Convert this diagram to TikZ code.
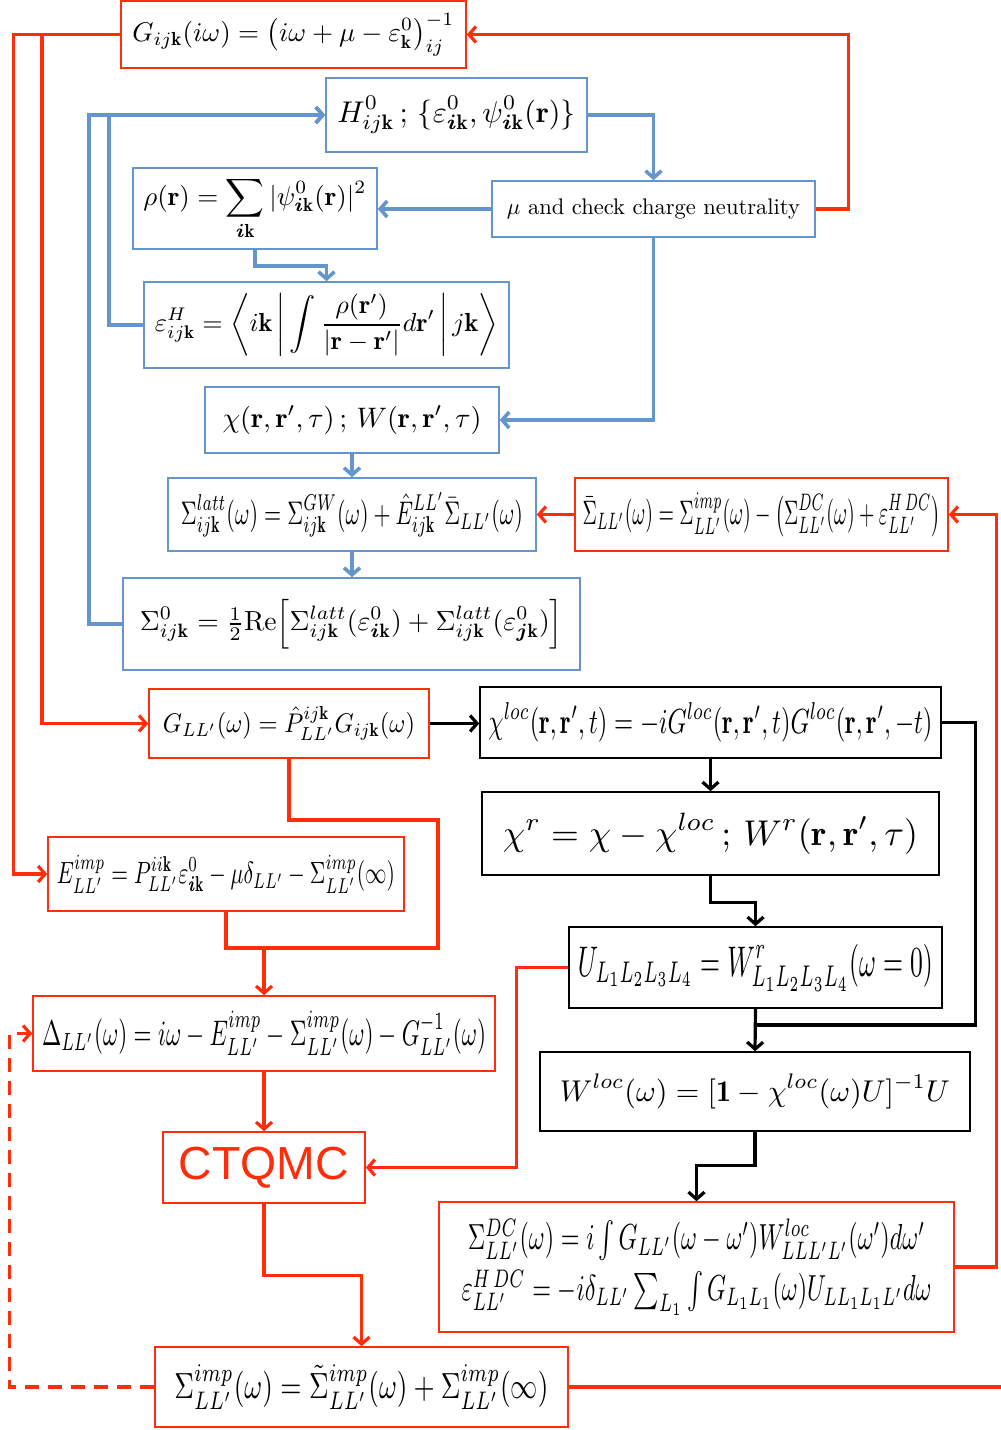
\documentclass[tikz,border=0pt]{standalone}
\usepackage{amsmath,amssymb}
\usepackage{graphicx}
\usepackage{fontspec}
\newfontfamily\arialf{Liberation Sans}
\usetikzlibrary{arrows.meta}
\definecolor{rd}{RGB}{255,45,10}
\definecolor{bl}{RGB}{100,150,205}
\newcommand{\fw}[2]{\resizebox{#1pt}{!}{$\displaystyle #2$}}
\newcommand{\fwh}[3]{\resizebox*{#1pt}{#2pt}{$\displaystyle #3$}}
\newcommand{\bk}{\mathbf{k}}
\newcommand{\bi}{\boldsymbol{i}}
\newcommand{\br}{\mathbf{r}}
\begin{document}
\begin{tikzpicture}[x=1pt,y=-1pt,
  box/.style={draw, line width=1.6pt, inner sep=0pt, rectangle},
  rbox/.style={box, draw=rd},
  bbox/.style={box, draw=bl},
  kbox/.style={box, draw=black},
  rl/.style={draw=rd, line width=3.2pt},
  bll/.style={draw=bl, line width=3.6pt},
  kl/.style={draw=black, line width=3.2pt},
  tip/.style={-{Straight Barb[length=7pt,width=16pt]}}]
\useasboundingbox (0,0) rectangle (1001,1430);

% nodes
\node[rbox, minimum width=345pt, minimum height=67pt] (g) at (293.5,34.5)
  {\fw{322}{G_{ij\bk}(i\omega) = \bigl(i\omega + \mu - \varepsilon^{0}_{\bk}\bigr)^{-1}_{ij}}};
\node[bbox, minimum width=261pt, minimum height=74pt] (h0) at (456.5,115)
  {\fw{238}{H^{0}_{ij\bk}\,;\,\{\varepsilon^{0}_{\bi\bk},\psi^{0}_{\bi\bk}(\br)\}}};
\node[bbox, minimum width=323pt, minimum height=56pt] (mu) at (653.5,209)
  {\resizebox{293pt}{!}{$\mu$ and check charge neutrality}};
\node[bbox, minimum width=244pt, minimum height=81pt] (rho) at (255,208.5)
  {\fw{223}{\rho(\br) = \sum_{\bi\bk} |\psi^{0}_{\bi\bk}(\br)|^{2}}};
\node[bbox, minimum width=365pt, minimum height=86pt] (eh) at (326.5,325)
  {\fw{343}{\varepsilon^{H}_{ij\bk} = \left\langle i\bk \,\middle|\, \int \frac{\rho(\br')}{|\br-\br'|}d\br' \,\middle|\, j\bk \right\rangle}};
\node[bbox, minimum width=294pt, minimum height=66pt] (chi) at (352,420)
  {\fw{259}{\chi(\br,\br',\tau)\,;\,W(\br,\br',\tau)}};
\node[bbox, minimum width=368pt, minimum height=73pt] (slatt) at (352,514.5)
  {\fwh{342}{45}{\Sigma^{latt}_{ij\bk}(\omega) = \Sigma^{GW}_{ij\bk}(\omega) + \hat{E}^{LL'}_{ij\bk}\bar{\Sigma}_{LL'}(\omega)}};
\node[rbox, minimum width=373pt, minimum height=73pt] (sbar) at (761.5,514.5)
  {\fwh{358}{44}{\bar{\Sigma}_{LL'}(\omega) = \Sigma^{imp}_{LL'}(\omega) - \bigl(\Sigma^{DC}_{LL'}(\omega) + \varepsilon^{H\,DC}_{LL'}\bigr)}};
\node[bbox, minimum width=457pt, minimum height=92pt] (s0) at (351.5,624)
  {\fw{423}{\Sigma^{0}_{ij\bk} = \tfrac{1}{2}\mathrm{Re}\Bigl[\Sigma^{latt}_{ij\bk}(\varepsilon^{0}_{\bi\bk}) + \Sigma^{latt}_{ij\bk}(\varepsilon^{0}_{\boldsymbol{j}\bk})\Bigr]}};
\node[rbox, minimum width=280pt, minimum height=69pt] (gll) at (289,723.5)
  {\fwh{252}{34}{G_{LL'}(\omega) = \hat{P}^{ij\bk}_{LL'}G_{ij\bk}(\omega)}};
\node[kbox, minimum width=461pt, minimum height=71pt] (chiloc) at (710.5,722.5)
  {\fwh{444}{40}{\chi^{loc}(\br,\br',t) = -iG^{loc}(\br,\br',t)G^{loc}(\br,\br',-t)}};
\node[kbox, minimum width=457pt, minimum height=83pt] (chir) at (710.5,833.5)
  {\fw{415}{\chi^{r} = \chi - \chi^{loc}\,;\,W^{r}(\br,\br',\tau)}};
\node[rbox, minimum width=356pt, minimum height=74pt] (eimp) at (226,874)
  {\fwh{338}{38}{E^{imp}_{LL'} = P^{ii\bk}_{LL'}\varepsilon^{0}_{\bi\bk} - \mu\delta_{LL'} - \Sigma^{imp}_{LL'}(\infty)}};
\node[kbox, minimum width=373pt, minimum height=81pt] (u) at (755.5,967.5)
  {\fwh{355}{47}{U_{L_1L_2L_3L_4} = W^{r}_{L_1L_2L_3L_4}(\omega=0)}};
\node[rbox, minimum width=462pt, minimum height=75pt] (delta) at (264,1033.5)
  {\fwh{444}{44}{\Delta_{LL'}(\omega) = i\omega - E^{imp}_{LL'} - \Sigma^{imp}_{LL'}(\omega) - G^{-1}_{LL'}(\omega)}};
\node[kbox, minimum width=430pt, minimum height=79pt] (wloc) at (755,1091.5)
  {\fw{390}{W^{loc}(\omega) = [\mathbf{1} - \chi^{loc}(\omega)U]^{-1}U}};
\node[rbox, minimum width=202pt, minimum height=71pt] (ctqmc) at (264,1167.5)
  {\resizebox{170pt}{!}{\color{rd}\arialf CTQMC}};
\node[rbox, minimum width=515pt, minimum height=130pt] (dc) at (696.5,1267)
  {\fwh{494}{96}{\begin{array}{c}
    \Sigma^{DC}_{LL'}(\omega) = i\int G_{LL'}(\omega-\omega')W^{loc}_{LLL'L'}(\omega')d\omega'\\[2pt]
    \varepsilon^{H\,DC}_{LL'} = -i\delta_{LL'}\sum_{L_1}\int G_{L_1L_1}(\omega)U_{LL_1L_1L'}d\omega
  \end{array}}};
\node[rbox, minimum width=413pt, minimum height=80pt] (simp) at (361.5,1387)
  {\fwh{374}{45}{\Sigma^{imp}_{LL'}(\omega) = \tilde{\Sigma}^{imp}_{LL'}(\omega) + \Sigma^{imp}_{LL'}(\infty)}};

% junction coordinates
\coordinate (j1) at (42,34.5);
\coordinate (j2) at (438,820);
\coordinate (j3) at (264,948);
\coordinate (j4) at (755.5,1025);

% red connectors
\draw[rl, tip] (g.west) -- ++(-107,0) |- (eimp.west);
\draw[rl, tip] (j1) |- (gll.west);
\draw[rl, tip] (mu.east) -- ++(33,0) |- (g.east);
\draw[rl, tip] (sbar.west) -- (slatt.east);
\draw[rl] (gll.south) |- (j2) -- (j2 |- j3) -| (eimp.south);
\draw[rl, tip] (j3) -- (delta.north);
\draw[rl, tip] (delta.south) -- (ctqmc.north);
\draw[rl, tip] (u.west) -- ++(-52,0) |- (ctqmc.east);
\draw[rl, tip] (ctqmc.south) -- ++(0,72) -| (simp.north);
\draw[rl, tip, dash pattern=on 14pt off 9pt] (simp.west) -- ++(-145,0) |- (delta.west);
\draw[rl] (simp.east) -- ++(433,0);
\draw[rl, tip] (dc.east) -- ++(42,0) |- (sbar.east);

% blue connectors
\draw[bll, tip] (h0.east) -| (mu.north);
\draw[bll, tip] (mu.west) -- (rho.east |- mu.west);
\draw[bll, tip] (rho.south) -- ++(0,16) -| (eh.north);
\draw[bll, tip] (eh.west) -- ++(-34,0) |- (h0.west);
\draw[bll, tip] (s0.west) -- ++(-33,0) |- (h0.west);
\draw[bll, tip] (mu.south) |- (chi.east);
\draw[bll, tip] (chi.south) -- (slatt.north);
\draw[bll, tip] (slatt.south) -- (slatt.south |- s0.north);

% black connectors
\draw[kl, tip] (gll.east) -- (chiloc.west |- gll.east);
\draw[kl, tip] (chiloc.south) -- (chir.north);
\draw[kl, tip] (chir.south) -- ++(0,27) -| (u.north);
\draw[kl] (chiloc.east) -- ++(34,0) |- (j4);
\draw[kl, tip] (u.south) -- (wloc.north);
\draw[kl, tip] (wloc.south) -- ++(0,34) -| (dc.north);
\end{tikzpicture}
\end{document}
